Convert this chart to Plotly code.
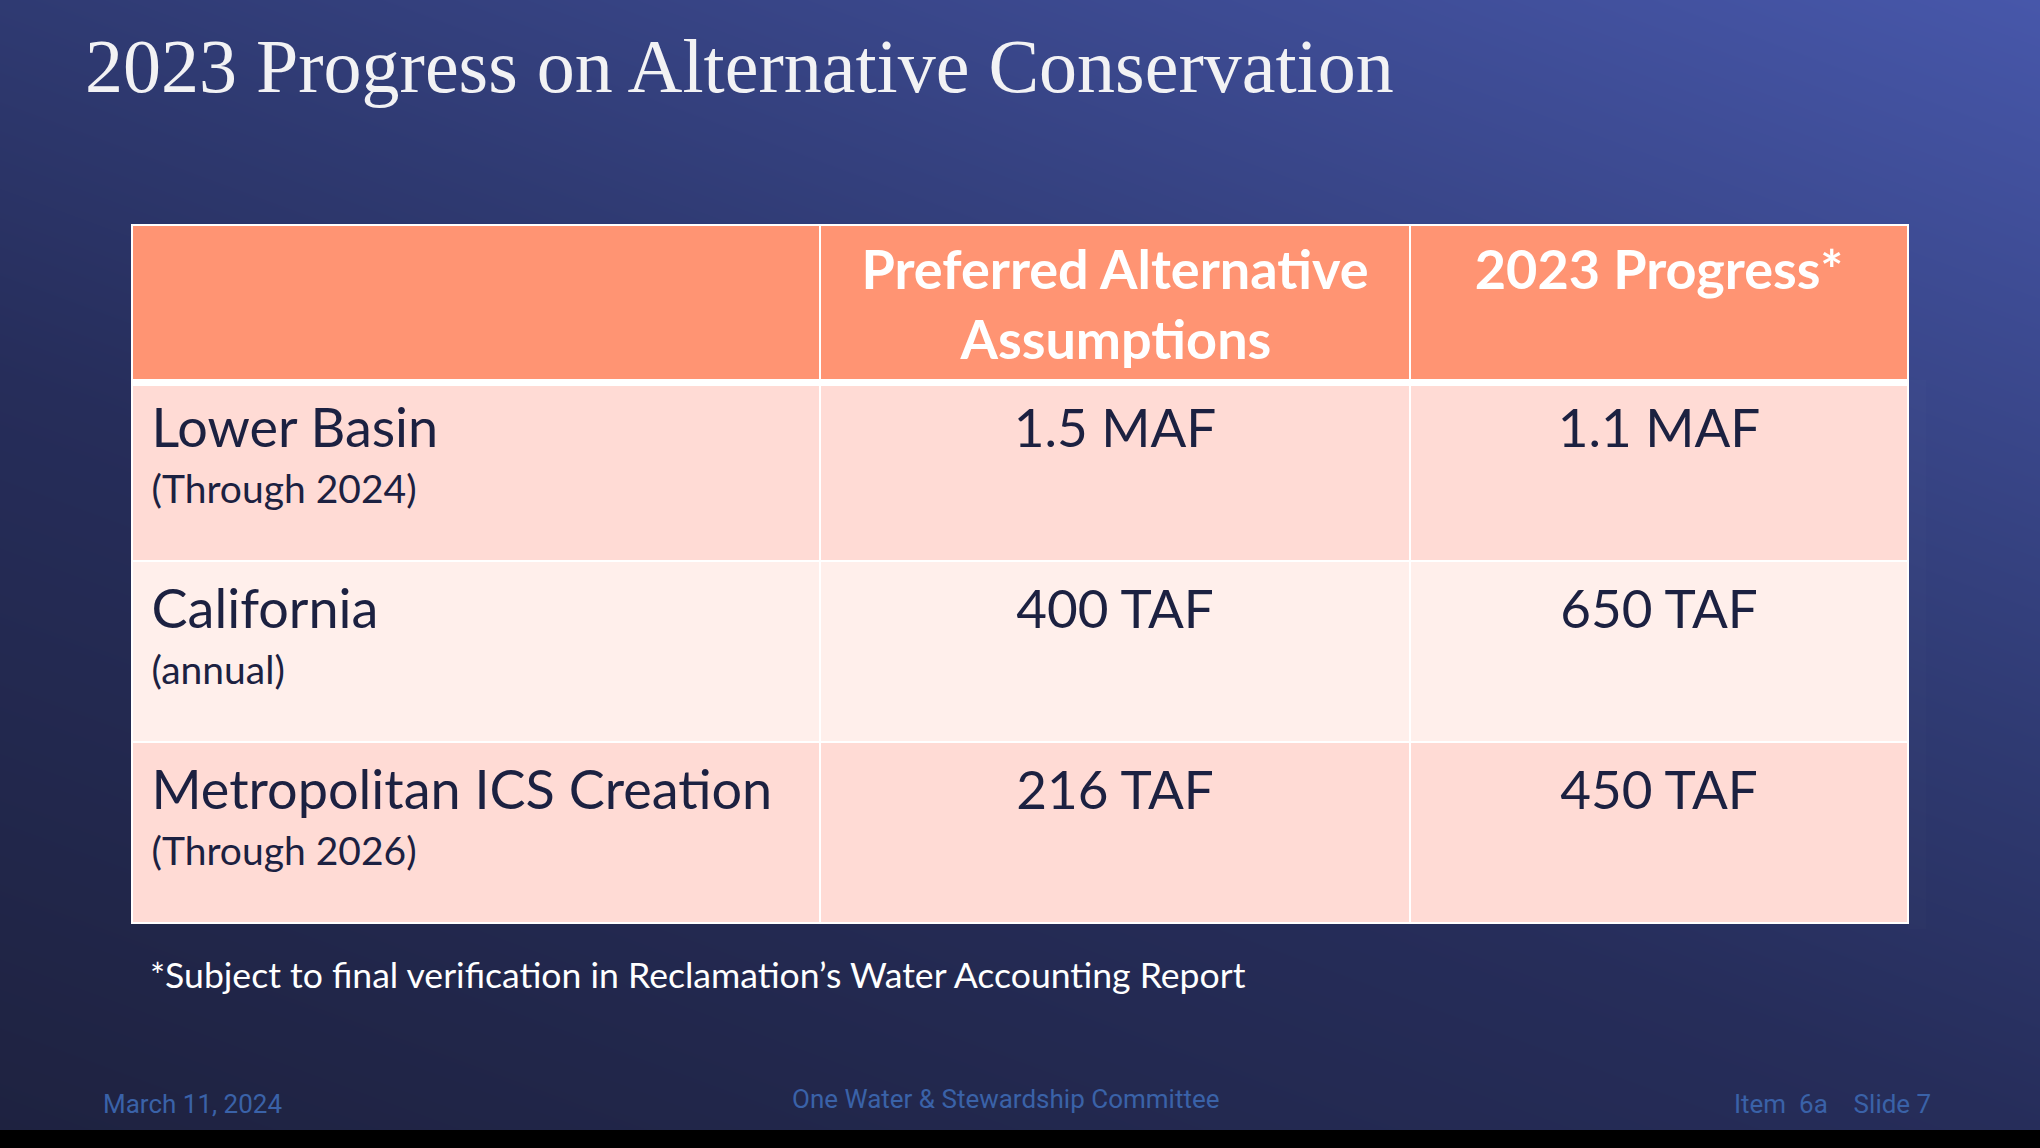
import plotly.graph_objects as go

# ---------------- data ----------------
title_text = "2023 Progress on Alternative Conservation"
col_headers = [[""], ["Preferred Alternative", "Assumptions"], ["2023 Progress*"]]
row_names = ["Lower Basin", "California", "Metropolitan ICS Creation"]
row_notes = ["(Through 2024)", "(annual)", "(Through 2026)"]
preferred = ["1.5 MAF", "400 TAF", "216 TAF"]
progress = ["1.1 MAF", "650 TAF", "450 TAF"]
footnote = "*Subject to final verification in Reclamation\u2019s Water Accounting Report"
footer_left = "March 11, 2024"
footer_center = "One Water & Stewardship Committee"
footer_right = "Item\u00a0\u00a06a\u00a0\u00a0\u00a0\u00a0Slide 7"

# ---------------- layout constants ----------------
W, H = 2040, 1148
BAND = 18            # black strip at the very bottom
PH = H - BAND        # plot area height
TBL_L, TBL_R, TBL_T = 132, 1908, 225
HEADER_H, ROW_H = 155, 181
TBL_B = TBL_T + HEADER_H + 3 * ROW_H + 6

HEADER_BG = "#FF9473"
ROW_BG = ["#FFDBD5", "#FFEFEB", "#FFDBD5"]
TEXT_DARK = "#1C2141"
FOOT_BLUE = "#3A62A8"
NB = "\u00a0"


def sp(size, text):
    return f"<span style='font-size:{size}px'>{text}</span>"


fig = go.Figure()

# background gradient (decorative)
bg_z = [[0.6, 1.0], [0.0, 0.4]]
bg_scale = [[0.0, "#1E2240"], [0.4, "#262D5A"], [0.6, "#2F3A72"], [1.0, "#4757AA"]]
fig.add_trace(go.Heatmap(x=[0, W], y=[0, PH], z=bg_z, zmin=0, zmax=1,
                         colorscale=bg_scale, zsmooth="best", showscale=False,
                         hoverinfo="skip"))

# cell texts (spacer spans set top offset / indentation)
label_cells = [
    sp(45, NB) + sp(54, n) + sp(60, NB) + "<br>" + sp(45, NB) + sp(39, s)
    for n, s in zip(row_names, row_notes)
]
pref_cells = [sp(60, NB) + v + sp(60, NB) + "<br>" for v in preferred]
prog_cells = [sp(60, NB) + v + sp(60, NB) + "<br>" for v in progress]


def header_cell(lines):
    if lines == [""]:
        return ""
    first = sp(57, NB) + lines[0] + sp(57, NB)
    if len(lines) == 1:
        return f"<b>{first}<br></b>"
    second = sp(58, NB * 8) + lines[1]
    return f"<b>{first}<br>{second}</b>"


header_vals = [header_cell(h) for h in col_headers]

fig.add_trace(go.Table(
    domain=dict(x=[TBL_L / W, TBL_R / W], y=[(PH - TBL_B) / PH, (PH - TBL_T) / PH]),
    columnwidth=[688, 590, 498],
    header=dict(values=header_vals, fill_color=HEADER_BG,
                line=dict(color="white", width=2),
                font=dict(family="Lato", size=54, color="white"),
                align="center", height=HEADER_H),
    cells=dict(values=[label_cells, pref_cells, prog_cells],
               fill_color=[ROW_BG],
               line=dict(color="white", width=2),
               font=dict(family="Lato", size=[43, 53, 53], color=TEXT_DARK),
               align=["left", "center", "center"], height=ROW_H),
))

annotations = [
    dict(text=title_text, x=83, y=22, xanchor="left", yanchor="top",
         font=dict(family="Liberation Serif", size=76, color="#F2F2F4")),
    dict(text=footnote, x=148, y=951, xanchor="left", yanchor="top",
         font=dict(family="Lato", size=35.6, color="white")),
    dict(text=footer_left, x=101, y=1087, xanchor="left", yanchor="top",
         font=dict(family="Roboto", size=26, color=FOOT_BLUE)),
    dict(text=footer_center, x=1005, y=1082, xanchor="center", yanchor="top",
         font=dict(family="Roboto", size=26, color=FOOT_BLUE)),
    dict(text=footer_right, x=1933, y=1087, xanchor="right", yanchor="top",
         font=dict(family="Roboto", size=26, color=FOOT_BLUE)),
]
for a in annotations:
    a.update(xref="x", yref="y", showarrow=False)

fig.update_layout(
    width=W, height=H,
    margin=dict(l=0, r=0, t=0, b=BAND, pad=0),
    paper_bgcolor="black", plot_bgcolor="black",
    xaxis=dict(range=[0, W], visible=False, fixedrange=True),
    yaxis=dict(range=[PH, 0], visible=False, fixedrange=True),
    annotations=annotations,
    shapes=[dict(type="line", xref="x", yref="y", x0=TBL_L, x1=TBL_R,
                 y0=TBL_T + HEADER_H + 3, y1=TBL_T + HEADER_H + 3,
                 line=dict(color="white", width=6))],
    showlegend=False,
)

fig.write_html("out.html", config=dict(displayModeBar=False),
               post_script="document.body.style.margin='0px';document.body.style.overflow='hidden';")
